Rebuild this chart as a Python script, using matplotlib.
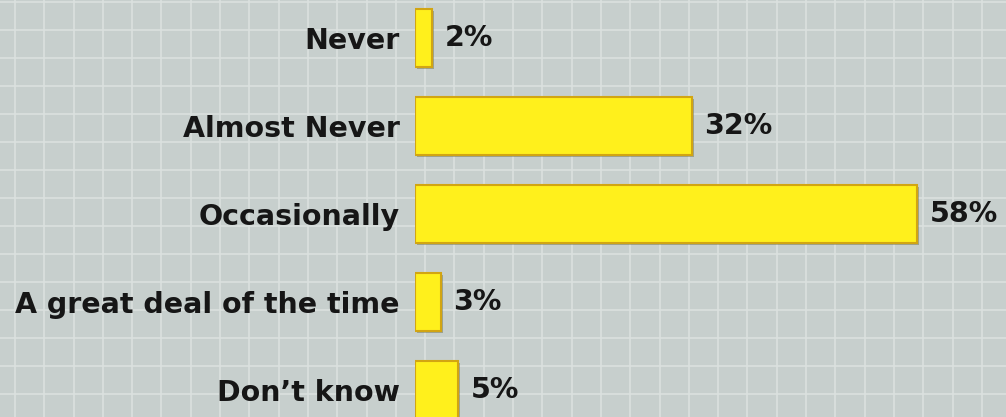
import numpy as np
import matplotlib.pyplot as plt
import matplotlib.patheffects as pe

categories = ["Never", "Almost Never", "Occasionally", "A great deal of the time", "Don\u2019t know"]
values = [2, 32, 58, 3, 5]

plt.rcParams['font.family'] = ['DejaVu Sans']

fig = plt.figure(figsize=(10.06, 4.17), dpi=100)
fig.patch.set_facecolor('#c7cfcd')

# graph-paper background
bg = fig.add_axes([0, 0, 1, 1], zorder=0)
bg.set_xlim(0, 1006)
bg.set_ylim(417, 0)
bg.set_facecolor('#c7cfcd')
for gx in np.arange(15, 1006, 29.3):
    bg.axvline(gx, color='#dce2e0', lw=1.1)
for gy in np.arange(1.5, 417, 28):
    bg.axhline(gy, color='#dce2e0', lw=1.1)
bg.axis('off')

ax = fig.add_axes([415 / 1006, 0, 1 - 415 / 1006, 1], zorder=1)
ax.patch.set_alpha(0)
y = np.arange(len(categories))
bars = ax.barh(y, values, height=0.65, color='#fff01c', edgecolor='#d2a512', linewidth=1.5)
for b in bars:
    b.set_path_effects([pe.SimplePatchShadow(offset=(1.5, -1.5), shadow_rgbFace='#6b6a40', alpha=0.45),
                        pe.Normal()])
ax.set_xlim(0, 591 / 8.66)
ax.set_ylim((417 - 38) / 88, -38 / 88)

ax.set_yticks(y)
ax.set_yticklabels(categories, fontsize=20.5, fontweight='bold', color='#161616')
ax.tick_params(axis='y', length=0, pad=11)
ax.set_xticks([])
for s in ax.spines.values():
    s.set_visible(False)

for yi, v in zip(y, values):
    ax.text(v + 1.4, yi, f"{v}%", va='center', ha='left', fontsize=20.5,
            fontweight='bold', color='#161616')

fig.savefig('out.png', dpi=100, facecolor=fig.get_facecolor())
